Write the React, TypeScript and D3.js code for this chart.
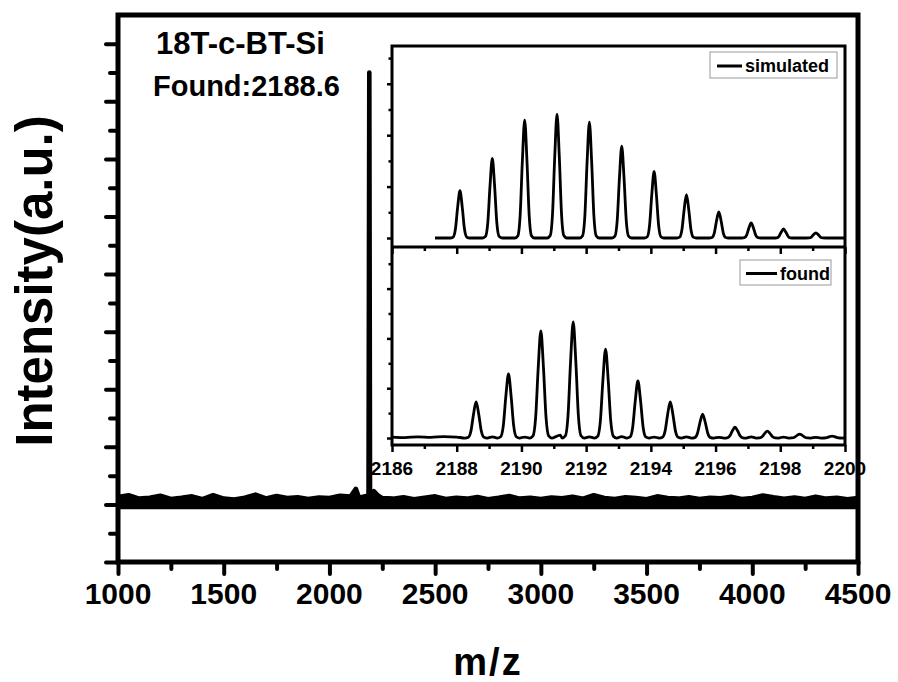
import React, { useRef, useEffect } from 'react';
import * as d3 from 'd3';

// main MALDI spectrum (m/z vs intensity, a.u.)
const mainMz = [
  1000, 1050, 1100, 1150, 1200, 1250, 1300, 1350, 1400, 1450, 1500, 1550, 1600, 1650, 1700,
  1750, 1800, 1850, 1900, 1950, 2000, 2050, 2100, 2125, 2140, 2170, 2185, 2188.6, 2192, 2210,
  2230, 2250, 2300, 2350, 2400, 2450, 2500, 2550, 2600, 2650, 2700, 2750, 2800, 2850, 2900,
  2950, 3000, 3050, 3100, 3150, 3200, 3250, 3300, 3350, 3400, 3450, 3500, 3550, 3600, 3650,
  3700, 3750, 3800, 3850, 3900, 3950, 4000, 4050, 4100, 4150, 4200, 4250, 4300, 4350, 4400,
  4450, 4500,
];
const mainIntensity = [
  0.26, 0.32, 0.2, 0.23, 0.3, 0.19, 0.23, 0.28, 0.18, 0.32, 0.2, 0.17, 0.23, 0.34, 0.21,
  0.29, 0.22, 0.25, 0.19, 0.24, 0.22, 0.3, 0.27, 0.54, 0.23, 0.28, 0.32, 15.0, 0.32, 0.46,
  0.31, 0.22, 0.2, 0.25, 0.18, 0.23, 0.28, 0.19, 0.23, 0.2, 0.26, 0.18, 0.23, 0.29, 0.2,
  0.23, 0.19, 0.24, 0.21, 0.27, 0.2, 0.32, 0.22, 0.19, 0.25, 0.22, 0.18, 0.28, 0.22, 0.2,
  0.25, 0.19, 0.23, 0.21, 0.27, 0.19, 0.22, 0.31, 0.25, 0.2, 0.24, 0.19, 0.27, 0.2, 0.23,
  0.18, 0.22,
];
const mainTicks = [1000, 1500, 2000, 2500, 3000, 3500, 4000, 4500];

// inset: isotope pattern
const simCenters = [2188.1, 2189.1, 2190.1, 2191.1, 2192.1, 2193.1, 2194.1, 2195.1, 2196.1, 2197.1, 2198.1, 2199.1];
const simHeights = [1.84, 3.1, 4.59, 4.82, 4.51, 3.57, 2.59, 1.69, 1.02, 0.59, 0.35, 0.2];
const foundCenters = [2188.6, 2189.6, 2190.6, 2191.6, 2192.6, 2193.6, 2194.6, 2195.6, 2196.6, 2197.6, 2198.6, 2199.6];
const foundHeights = [1.45, 2.57, 4.3, 4.66, 3.57, 2.29, 1.45, 0.96, 0.44, 0.28, 0.16, 0.08];
const foundNoiseMz = [
  2186, 2186.4, 2186.8, 2187.2, 2187.6, 2188, 2189.1, 2190.1, 2191.2, 2192.1, 2193.1,
  2194.1, 2195.1, 2196.1, 2197.1, 2198.1, 2199.1, 2200,
];
const foundNoise = [
  0.04, 0.02, 0.05, 0.03, 0.06, 0.04, 0.05, 0.04, 0.12, 0.05, 0.06, 0.04, 0.05, 0.03, 0.05, 0.04, 0.03, 0.04,
];
const insetTicks = [2186, 2188, 2190, 2192, 2194, 2196, 2198, 2200];
const peakOffsets = [-0.3, -0.21, -0.14, -0.07, 0, 0.07, 0.14, 0.21, 0.3];
const peakProfile = [0, 0.02, 0.19, 0.66, 1, 0.66, 0.19, 0.02, 0];

const FONT = "'Liberation Sans', Arial, Helvetica, sans-serif";

export default function App() {
  const ref = useRef<SVGSVGElement>(null);

  useEffect(() => {
    const svg = d3.select(ref.current);
    svg.selectAll('*').remove();

    const width = 898;
    const height = 682;
    const m = { left: 118, right: 858, top: 15, bottom: 562 };

    svg.attr('width', width).attr('height', height);
    svg.append('rect').attr('width', width).attr('height', height).attr('fill', '#fff');

    const x = d3.scaleLinear().domain([1000, 4500]).range([m.left, m.right]);
    const y = d3.scaleLinear().domain([-2, 17]).range([m.bottom, m.top]);

    // main spectrum
    const pts = mainMz.map((d, i) => [d, mainIntensity[i]] as [number, number]);
    svg
      .append('path')
      .datum(pts)
      .attr('fill', '#000')
      .attr('d', d3.area<[number, number]>().x(d => x(d[0])).y0(y(0)).y1(d => y(d[1])));
    svg
      .append('path')
      .datum(pts)
      .attr('fill', 'none')
      .attr('stroke', '#000')
      .attr('stroke-width', 4.6)
      .attr('stroke-linejoin', 'round')
      .attr('d', d3.line<[number, number]>().x(d => x(d[0])).y(d => y(d[1])));
    svg
      .append('line')
      .attr('x1', m.left)
      .attr('x2', m.right)
      .attr('y1', y(-0.05))
      .attr('y2', y(-0.05))
      .attr('stroke', '#000')
      .attr('stroke-width', 7);

    // main axes
    const even = d3.range(-2, 17, 2);
    const odd = d3.range(-1, 17, 2);
    const minorX = d3.range(1250, 4500, 500);
    const tickStyle = (g: any) =>
      g.selectAll('line').attr('stroke', '#000').attr('stroke-width', 4).attr('stroke-linecap', 'round');

    svg.append('g').attr('transform', `translate(${m.left},0)`)
      .call(d3.axisLeft(y).tickValues(even).tickSize(12).tickFormat(() => ''))
      .call(g => g.select('.domain').remove()).call(tickStyle);
    svg.append('g').attr('transform', `translate(${m.left},0)`)
      .call(d3.axisLeft(y).tickValues(odd).tickSize(8).tickFormat(() => ''))
      .call(g => g.select('.domain').remove()).call(tickStyle);
    svg.append('g').attr('transform', `translate(0,${m.bottom})`)
      .call(d3.axisBottom(x).tickValues(mainTicks).tickSize(12).tickFormat(() => ''))
      .call(g => g.select('.domain').remove()).call(tickStyle);
    svg.append('g').attr('transform', `translate(0,${m.bottom})`)
      .call(d3.axisBottom(x).tickValues(minorX).tickSize(7).tickFormat(() => ''))
      .call(g => g.select('.domain').remove()).call(tickStyle);

    svg.append('g')
      .selectAll('text')
      .data(mainTicks)
      .join('text')
      .attr('x', d => x(d))
      .attr('y', 604)
      .attr('text-anchor', 'middle')
      .attr('font-family', FONT)
      .attr('font-weight', 'bold')
      .attr('font-size', 30)
      .text(d => d);

    // inset
    const ix = d3.scaleLinear().domain([2186, 2200]).range([392, 845]);
    const yTop = d3.scaleLinear().domain([-0.35, 7.47]).range([247, 46]);
    const yBot = d3.scaleLinear().domain([-0.28, 7.67]).range([445, 247]);

    svg.append('rect')
      .attr('x', 392).attr('y', 46).attr('width', 845 - 392).attr('height', 445 - 46)
      .attr('fill', '#fff');

    const peakPoints = (centers: number[], heights: number[], widen: number) => {
      const out: [number, number][] = [];
      centers.forEach((c, i) => {
        peakOffsets.forEach((o, j) => out.push([c + o * widen, heights[i] * peakProfile[j]]));
      });
      return out;
    };

    const simPts: [number, number][] = [[2187.33, 0], ...peakPoints(simCenters, simHeights, 1), [2200, 0]];
    const foundPts: [number, number][] = peakPoints(foundCenters, foundHeights, 1.15);
    foundNoiseMz.forEach((d, i) => {
      if (!foundCenters.some(c => Math.abs(c - d) < 0.36)) foundPts.push([d, foundNoise[i]]);
    });
    foundPts.sort((a, b) => a[0] - b[0]);

    const inset = svg.append('g');
    inset.append('path')
      .datum(simPts)
      .attr('fill', 'none').attr('stroke', '#000').attr('stroke-width', 2.8)
      .attr('stroke-linejoin', 'round')
      .attr('d', d3.line<[number, number]>().x(d => ix(d[0])).y(d => yTop(d[1])).curve(d3.curveMonotoneX));
    inset.append('path')
      .datum(foundPts)
      .attr('fill', 'none').attr('stroke', '#000').attr('stroke-width', 2.8)
      .attr('stroke-linejoin', 'round')
      .attr('d', d3.line<[number, number]>().x(d => ix(d[0])).y(d => yBot(d[1])).curve(d3.curveMonotoneX));

    const insetTick = (g: any) =>
      g.selectAll('line').attr('stroke', '#000').attr('stroke-width', 2.5);
    const insetMinor = d3.range(2187, 2200, 2);
    [
      { y: yTop, pos: 247 },
      { y: yBot, pos: 445 },
    ].forEach(p => {
      inset.append('g').attr('transform', `translate(0,${p.pos})`)
        .call(d3.axisBottom(ix).tickValues(insetTicks).tickSize(7).tickFormat(() => ''))
        .call((g: any) => g.select('.domain').remove()).call(insetTick);
      inset.append('g').attr('transform', `translate(0,${p.pos})`)
        .call(d3.axisBottom(ix).tickValues(insetMinor).tickSize(4).tickFormat(() => ''))
        .call((g: any) => g.select('.domain').remove()).call(insetTick);
      inset.append('g').attr('transform', 'translate(392,0)')
        .call(d3.axisLeft(p.y).tickValues([0, 2, 4, 6]).tickSize(5).tickFormat(() => ''))
        .call((g: any) => g.select('.domain').remove()).call(insetTick);
      inset.append('g').attr('transform', 'translate(392,0)')
        .call(d3.axisLeft(p.y).tickValues([1, 3, 5, 7]).tickSize(3.5).tickFormat(() => ''))
        .call((g: any) => g.select('.domain').remove()).call(insetTick);
    });

    inset.append('rect')
      .attr('x', 392).attr('y', 46).attr('width', 845 - 392).attr('height', 445 - 46)
      .attr('fill', 'none').attr('stroke', '#000').attr('stroke-width', 3);
    inset.append('line')
      .attr('x1', 392).attr('x2', 845).attr('y1', 247).attr('y2', 247)
      .attr('stroke', '#000').attr('stroke-width', 3);

    inset.append('g')
      .selectAll('text')
      .data(insetTicks)
      .join('text')
      .attr('x', d => ix(d))
      .attr('y', 475)
      .attr('text-anchor', 'middle')
      .attr('font-family', FONT)
      .attr('font-weight', 'bold')
      .attr('font-size', 19)
      .text(d => d);

    // legends
    const legends = [
      { label: 'simulated', x: 710, y: 52, w: 127, h: 26, l0: 717, l1: 742, tx: 745 },
      { label: 'found', x: 740, y: 260, w: 91, h: 25, l0: 746, l1: 777, tx: 780 },
    ];
    legends.forEach(lg => {
      const g = inset.append('g');
      g.append('rect')
        .attr('x', lg.x).attr('y', lg.y).attr('width', lg.w).attr('height', lg.h)
        .attr('fill', '#fff').attr('stroke', '#999').attr('stroke-width', 1);
      g.append('line')
        .attr('x1', lg.l0).attr('x2', lg.l1).attr('y1', lg.y + lg.h / 2 + 1).attr('y2', lg.y + lg.h / 2 + 1)
        .attr('stroke', '#000').attr('stroke-width', 3);
      g.append('text')
        .attr('x', lg.tx).attr('y', lg.y + lg.h / 2 + 7)
        .attr('font-family', FONT).attr('font-weight', 'bold').attr('font-size', 18)
        .text(lg.label);
    });

    // main frame (drawn last so it sits on top)
    svg.append('rect')
      .attr('x', m.left).attr('y', m.top)
      .attr('width', m.right - m.left).attr('height', m.bottom - m.top)
      .attr('fill', 'none').attr('stroke', '#000').attr('stroke-width', 5);

    // annotations
    const ann = [
      { t: '18T-c-BT-Si', x: 156, y: 54, size: 31 },
      { t: 'Found:2188.6', x: 153, y: 96, size: 29 },
    ];
    svg.append('g')
      .selectAll('text')
      .data(ann)
      .join('text')
      .attr('x', d => d.x)
      .attr('y', d => d.y)
      .attr('font-family', FONT)
      .attr('font-weight', 'bold')
      .attr('font-size', d => d.size)
      .text(d => d.t);

    svg.append('text')
      .attr('x', 488).attr('y', 675)
      .attr('text-anchor', 'middle')
      .attr('font-family', FONT).attr('font-weight', 'bold').attr('font-size', 38)
      .attr('letter-spacing', 2)
      .text('m/z');

    svg.append('text')
      .attr('transform', 'translate(52,281) rotate(-90)')
      .attr('text-anchor', 'middle')
      .attr('font-family', FONT).attr('font-weight', 'bold').attr('font-size', 51)
      .text('Intensity(a.u.)');
  }, []);

  return <svg ref={ref} style={{ position: 'absolute', left: 0, top: 0, display: 'block' }} />;
}
